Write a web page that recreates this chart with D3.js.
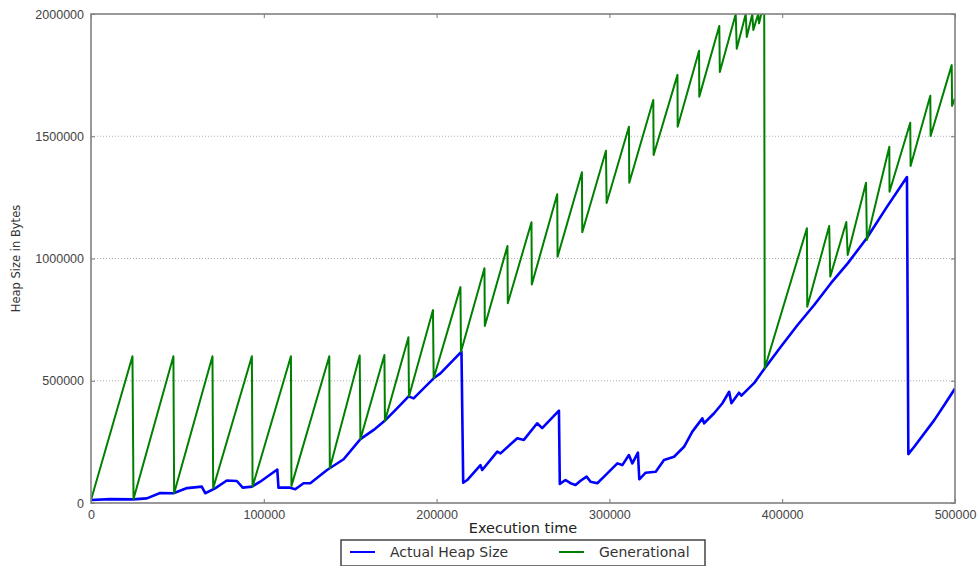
<!DOCTYPE html>
<html>
<head>
<meta charset="utf-8">
<script src="https://cdn.jsdelivr.net/npm/d3@7"></script>
<style>
    body { margin: 0; background: #fff; }
    svg { display: block; font-family: "DejaVu Sans", sans-serif; }
</style>
</head>
<body>
<div id="chart"></div>
<script>
// Actual heap size samples (time, bytes)
const heapTime = [0, 11000, 24300, 32300, 40000, 47700, 55600, 64100, 66100, 71800, 78600, 84400, 87800, 93100, 97900,
    107800, 108500, 114700, 118200, 123000, 126900, 136600, 146200, 155900, 163600, 169800, 177100, 183800, 186700,
    198300, 202200, 214400, 215400, 217700, 225400, 226400, 235100, 237000, 246700, 250500, 258200, 261100, 270800,
    271300, 274600, 277500, 280400, 283300, 286800, 289100, 293000, 298800, 304600, 307500, 311300, 313300, 316500,
    317300, 321000, 326800, 331600, 337400, 343200, 348000, 353800, 354800, 360600, 365400, 369300, 370600, 375000,
    376400, 383700, 389900, 399200, 408900, 418500, 428200, 437900, 449000, 460600, 472200, 473000, 476400, 488000,
    493800, 500000];
const heapSize = [12000, 16000, 15000, 19000, 41000, 40000, 61000, 67000, 40000, 60000, 92000, 90000, 63000, 67000, 87000,
    137000, 63000, 63000, 56000, 81000, 81000, 135000, 179000, 261000, 299000, 335000, 387000, 436000, 428000,
    510000, 530000, 619000, 83000, 94000, 155000, 135000, 210000, 203000, 265000, 258000, 326000, 306000, 378000,
    78000, 94000, 81000, 74000, 91000, 108000, 87000, 81000, 121000, 162000, 155000, 196000, 162000, 206000,
    97000, 124000, 128000, 176000, 189000, 230000, 292000, 346000, 326000, 367000, 408000, 455000, 408000, 451000,
    439000, 490000, 551000, 639000, 728000, 810000, 899000, 980000, 1084000, 1211000, 1333000, 200000, 230000, 339000,
    401000, 468000];

// Generational heap limit (time, bytes)
const genTime = [0, 24000, 24600, 47700, 48100, 70300, 70700, 93100, 93500, 115700, 116000, 137900, 138200,
    155500, 155900, 169800, 170100, 183700, 184000, 197900, 198300, 213800, 214100, 227700, 227900, 241000, 241200,
    254900, 255100, 269800, 270000, 284100, 284300, 298000, 298400, 311300, 311500, 325400, 325600, 339400, 339500,
    351900, 352000, 363600, 363900, 373100, 373700, 378900, 379500, 382700, 383300, 386100, 386600, 387900, 389600,
    389900, 414300, 414500, 427200, 427800, 437100, 437900, 448500, 449000, 462000, 462100, 474100, 474300,
    485700, 485900, 498100, 498300, 500000];
const genSize = [12000, 600000, 16000, 600000, 40000, 600000, 60000, 600000, 67000, 600000, 70000, 600000, 142000,
    603000, 261000, 605000, 335000, 678000, 436000, 789000, 510000, 883000, 619000, 960000, 724000, 1051000, 817000,
    1148000, 894000, 1263000, 1007000, 1353000, 1107000, 1441000, 1227000, 1539000, 1310000, 1648000, 1423000, 1751000, 1539000,
    1850000, 1662000, 1951000, 1763000, 2000000, 1858000, 2000000, 1906000, 2000000, 1935000, 2000000, 1962000, 2000000, 2000000,
    551000, 1124000, 803000, 1133000, 926000, 1149000, 1014000, 1310000, 1076000, 1457000, 1273000, 1555000, 1378000,
    1666000, 1501000, 1791000, 1624000, 1656000];

const xTicks = [0, 100000, 200000, 300000, 400000, 500000];
const yTicks = [0, 500000, 1000000, 1500000, 2000000];
const seriesNames = ['Actual Heap Size', 'Generational'];
const seriesColors = ['#0000ff', '#008000'];

const width = 979, height = 566;
const margin = { top: 14, right: 24, bottom: 63, left: 91 };
const innerW = width - margin.left - margin.right;
const innerH = height - margin.top - margin.bottom;

const svg = d3.select('#chart').append('svg')
    .attr('width', width)
    .attr('height', height);

const g = svg.append('g')
    .attr('transform', `translate(${margin.left},${margin.top})`);

const x = d3.scaleLinear().domain([0, 500000]).range([0, innerW]);
const y = d3.scaleLinear().domain([0, 2000000]).range([innerH, 0]);

// Horizontal dotted grid
g.append('g')
    .selectAll('line')
    .data(yTicks.slice(1, -1))
    .join('line')
    .attr('x1', 0)
    .attr('x2', innerW)
    .attr('y1', d => y(d))
    .attr('y2', d => y(d))
    .attr('stroke', '#b0b0b0')
    .attr('stroke-width', 1)
    .attr('stroke-dasharray', '1,2');

g.append('clipPath')
    .attr('id', 'plot-clip')
    .append('rect')
    .attr('width', innerW)
    .attr('height', innerH);

const line = d3.line()
    .x(d => x(d[0]))
    .y(d => y(d[1]));

const heapData = heapTime.map((t, i) => [t, heapSize[i]]);
const genData = genTime.map((t, i) => [t, genSize[i]]);

const plot = g.append('g').attr('clip-path', 'url(#plot-clip)');

plot.append('path')
    .datum(heapData)
    .attr('d', line)
    .attr('fill', 'none')
    .attr('stroke', seriesColors[0])
    .attr('stroke-width', 2.6)
    .attr('stroke-linejoin', 'round');

plot.append('path')
    .datum(genData)
    .attr('d', line)
    .attr('fill', 'none')
    .attr('stroke', seriesColors[1])
    .attr('stroke-width', 2)
    .attr('stroke-linejoin', 'round');

// Axes with inward ticks on all four sides
const tickColor = '#444';
const styleAxis = sel => {
    sel.select('.domain').remove();
    sel.selectAll('.tick line').attr('stroke', '#777');
    sel.selectAll('.tick text')
        .attr('fill', tickColor)
        .style('font-size', '12.5px');
};

g.append('g')
    .attr('transform', `translate(0,${innerH})`)
    .call(d3.axisBottom(x).tickValues(xTicks).tickFormat(d3.format('d')).tickSizeInner(-4).tickPadding(7))
    .call(styleAxis);

g.append('g')
    .call(d3.axisTop(x).tickValues(xTicks).tickFormat('').tickSizeInner(-4))
    .call(styleAxis);

g.append('g')
    .call(d3.axisLeft(y).tickValues(yTicks).tickFormat(d3.format('d')).tickSizeInner(-4).tickPadding(7))
    .call(styleAxis);

g.append('g')
    .attr('transform', `translate(${innerW},0)`)
    .call(d3.axisRight(y).tickValues(yTicks).tickFormat('').tickSizeInner(-4))
    .call(styleAxis);

// Frame
g.append('rect')
    .attr('width', innerW)
    .attr('height', innerH)
    .attr('fill', 'none')
    .attr('stroke', '#808080')
    .attr('stroke-width', 1.6);

// Axis titles
svg.append('text')
    .attr('x', margin.left + innerW / 2)
    .attr('y', 533)
    .attr('text-anchor', 'middle')
    .attr('fill', '#222')
    .style('font-size', '14.5px')
    .text('Execution time');

svg.append('text')
    .attr('transform', `translate(20,${margin.top + innerH / 2}) rotate(-90)`)
    .attr('text-anchor', 'middle')
    .attr('fill', '#333')
    .style('font-size', '11.5px')
    .text('Heap Size in Bytes');

// Legend
const legend = svg.append('g').attr('transform', 'translate(341,540)');
legend.append('rect')
    .attr('width', 364)
    .attr('height', 26)
    .attr('fill', '#fff')
    .attr('stroke', '#444')
    .attr('stroke-width', 1.5);

const legendX = [9, 218];
seriesNames.forEach((name, i) => {
    const item = legend.append('g').attr('transform', `translate(${legendX[i]},12)`);
    item.append('line')
        .attr('x1', 0)
        .attr('x2', 25)
        .attr('stroke', seriesColors[i])
        .attr('stroke-width', 2);
    item.append('text')
        .attr('x', 40)
        .attr('y', 5)
        .attr('fill', '#333')
        .style('font-size', '14px')
        .text(name);
});
</script>
</body>
</html>
